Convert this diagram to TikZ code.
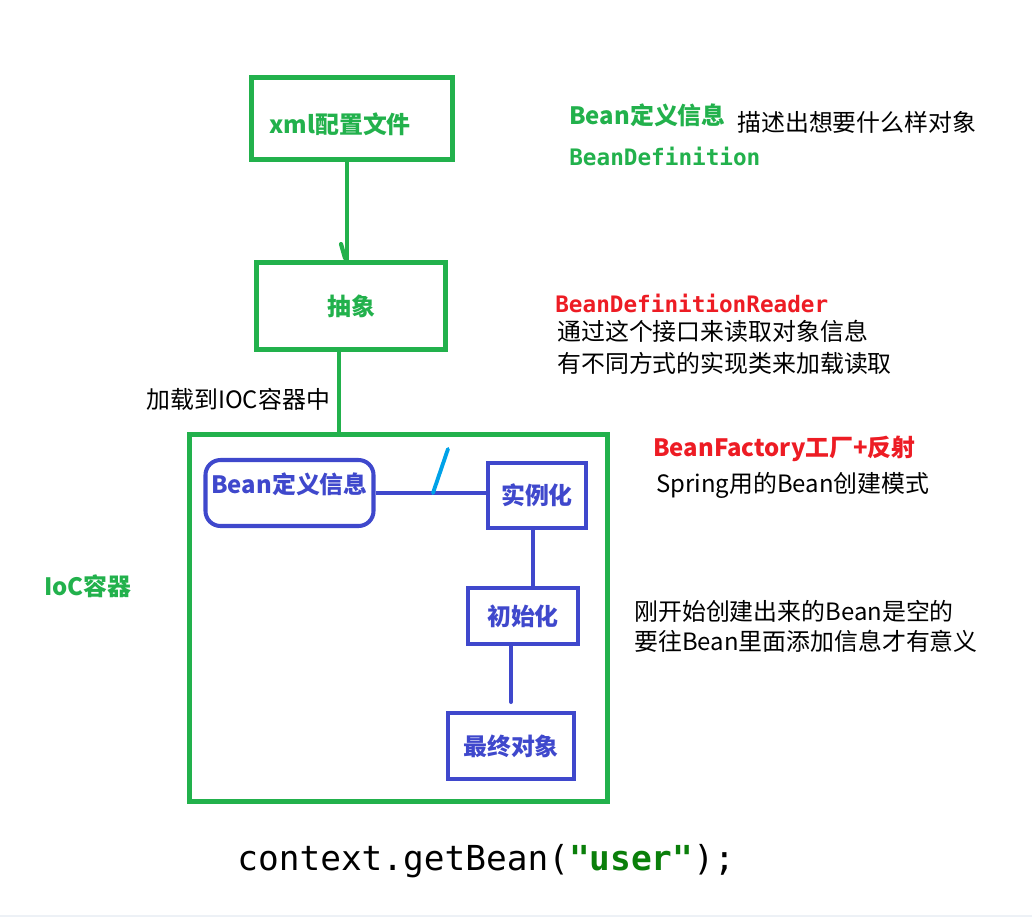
\documentclass[tikz,border=0pt]{standalone}
\usepackage{fontspec}
\setmainfont{Noto Sans CJK SC}
\newfontfamily\codefont{DejaVu Sans Mono}
\usepackage{tikz}
\usetikzlibrary{positioning}
\definecolor{pgreen}{HTML}{22B14C}
\definecolor{pblue}{HTML}{3F48CC}
\definecolor{pred}{HTML}{ED1C24}
\definecolor{pcyan}{HTML}{00A2E8}
\definecolor{strgreen}{HTML}{0A7F0A}
\definecolor{stripgray}{HTML}{EDF1F6}
\newcommand{\txtsize}{\fontsize{13.6}{16}\selectfont}
\tikzset{
  greenbox/.style={draw=pgreen, line width=2.8pt, text=pgreen, font=\txtsize\bfseries},
  bluebox/.style={draw=pblue, line width=2.3pt, text=pblue, font=\txtsize\bfseries},
  greenline/.style={draw=pgreen, line width=2.4pt},
  blueline/.style={draw=pblue, line width=2.3pt},
  note/.style={inner sep=0pt, anchor=west, font=\txtsize},
}

\begin{document}
\begin{tikzpicture}[x=0.02cm, y=-0.02cm]
  \useasboundingbox (0,0) rectangle (1032,917);
  \fill[stripgray] (0,915) rectangle (1032,917);

  % START: Left column -----------------------------
  \node[greenbox, minimum width=4.02cm, minimum height=1.64cm, text height=0.7cm, text depth=0.1cm, text width=3.3cm] (xml) at (352,118.5) {xml配置文件};
  \node[greenbox, minimum width=3.78cm, minimum height=1.74cm] (abs) at (351,306) {抽象};
  \node[draw=pgreen, line width=2.8pt, minimum width=8.36cm, minimum height=7.34cm] (ioc) at (398.5,618) {};
  \node[note, text=pgreen, font=\txtsize\bfseries] (ioc_name) at (44,586) {IoC容器};
  % END: Left column -------------------------------

  % START: Inside the container --------------------
  \node[bluebox, rounded corners=0.3cm, minimum width=3.3cm, minimum height=1.32cm, text height=0.33cm, text depth=0.3cm] (beandef) at (289.5,493) {Bean定义信息};
  \node[bluebox, minimum width=1.96cm, minimum height=1.3cm] (inst) at (537,495.5) {实例化};
  \node[bluebox, minimum width=2.2cm, minimum height=1.12cm] (init) at (523,616) {初始化};
  \node[bluebox, minimum width=2.52cm, minimum height=1.32cm] (final) at (511,746) {最终对象};
  % END: Inside the container ----------------------

  % START: Notes -----------------------------------
  \node[note, text=pgreen, font=\txtsize\bfseries] (def_cn) at (569,115) {Bean定义信息};
  \node[note] (def_desc) at (737,122) {描述出想要什么样对象};
  \node[note, text=pgreen, font=\codefont\fontsize{12.9}{15}\selectfont\bfseries] (def_en) at (569,156) {BeanDefinition};

  \node[note, text=pred, font=\codefont\fontsize{12.9}{15}\selectfont\bfseries] (reader) at (555,303) {BeanDefinitionReader};
  \node[note] (reader_1) at (557,331) {通过这个接口来读取对象信息};
  \node[note] (reader_2) at (557,363) {有不同方式的实现类来加载读取};

  \node[note, text=pred, font=\txtsize\bfseries] (factory) at (653,449) {BeanFactory工厂+反射};
  \node[note] (factory_1) at (656,485) {Spring用的Bean创建模式};

  \node[note] (empty_1) at (634,611) {刚开始创建出来的Bean是空的};
  \node[note] (empty_2) at (634,641) {要往Bean里面添加信息才有意义};

  \node[note, font=\codefont\fontsize{19.6}{23}\selectfont] (code) at (237,861) {context.getBean(\textcolor{strgreen}{\bfseries"user"});};
  % END: Notes -------------------------------------

  % Connectors
  \draw[greenline] ([xshift=-0.1cm]xml.south) -- ([xshift=-0.1cm]xml.south |- abs.north) coordinate (abs_in);
  \draw[greenline, line cap=round] (abs_in) ++(-6,-16) -- ++(4,14);
  \draw[greenline] ([xshift=-0.24cm]abs.south) -- ([xshift=-0.24cm]abs.south |- ioc.north)
    node[pos=0.59, left=0.14cm, inner sep=0pt, text=black, font=\txtsize] (load) {加载到IOC容器中};
  \draw[blueline] (beandef.east) -- (beandef.east -| inst.west) coordinate[pos=0.52] (cut);
  \draw[pcyan, line width=2.2pt, line cap=round] (cut) -- ++(15,-44);
  \draw[blueline] ([xshift=-0.08cm]inst.south) -- ([xshift=-0.08cm]inst.south |- init.north);
  \draw[blueline, line cap=round] (init.south -| final.north) -- ([yshift=0.18cm]final.north);
\end{tikzpicture}
\end{document}
